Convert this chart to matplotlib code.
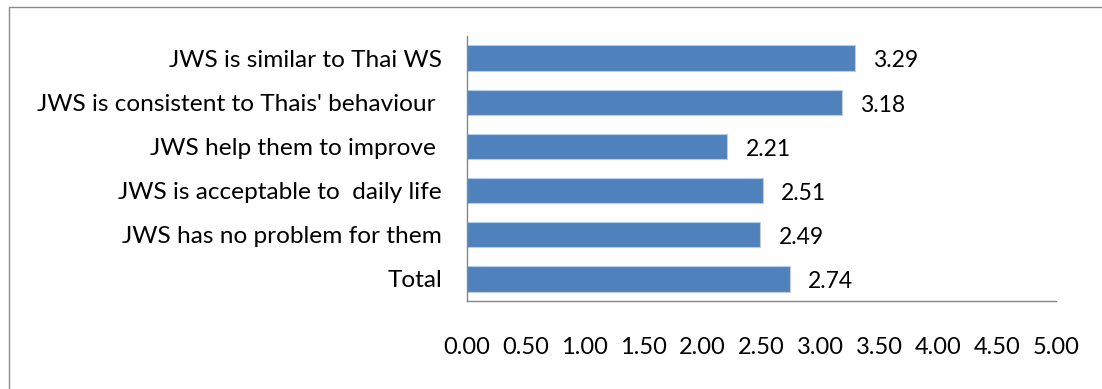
import matplotlib
matplotlib.use("Agg")
import matplotlib.pyplot as plt
from matplotlib.patches import Rectangle

categories = ["JWS is similar to Thai WS", "JWS is consistent to Thais' behaviour ",
              "JWS help them to improve ", "JWS is acceptable to  daily life",
              "JWS has no problem for them", "Total"]
values = [3.29, 3.18, 2.21, 2.51, 2.49, 2.74]
xticks = [0, 0.5, 1.0, 1.5, 2.0, 2.5, 3.0, 3.5, 4.0, 4.5, 5.0]

plt.rcParams['font.family'] = ['Lato', 'DejaVu Sans']

W, H = 1102, 389
fig = plt.figure(figsize=(W/100, H/100), dpi=100)
fig.patches.append(Rectangle((8.5/W, -0.1), 1.2, 1 - 7.5/H + 0.1, transform=fig.transFigure,
                             fill=False, edgecolor='#8c8c8c', linewidth=1.0))
x0, x1 = 467, 1056
ytop, ybot = 36, 301
ax = fig.add_axes([x0/W, 1 - ybot/H, (x1 - x0)/W, (ybot - ytop)/H])

ypos = list(range(len(categories)))[::-1]
ax.barh(ypos, values, height=0.57, color='#4F81BD', edgecolor='#B9CDE5', linewidth=0.8)
for y, v in zip(ypos, values):
    ax.annotate(f"{v:.2f}", (v, y), xytext=(13, -2), textcoords='offset points',
                va='center', ha='left', fontsize=16.5, color='black')

ax.set_xlim(0, 5)
ax.set_ylim(-0.5, 5.5)
ax.set_yticks(ypos)
ax.set_yticklabels(categories, fontsize=17.6)
ax.set_xticks(xticks)
ax.set_xticklabels([f"{t:.2f}" for t in xticks], fontsize=17)
ax.tick_params(axis='x', length=0, pad=26)
ax.tick_params(axis='y', length=0, pad=18)
for s in ['top', 'right']:
    ax.spines[s].set_visible(False)
for s in ['left', 'bottom']:
    ax.spines[s].set_color('#868686')
    ax.spines[s].set_linewidth(1.0)

fig.savefig("out.png", dpi=100)
